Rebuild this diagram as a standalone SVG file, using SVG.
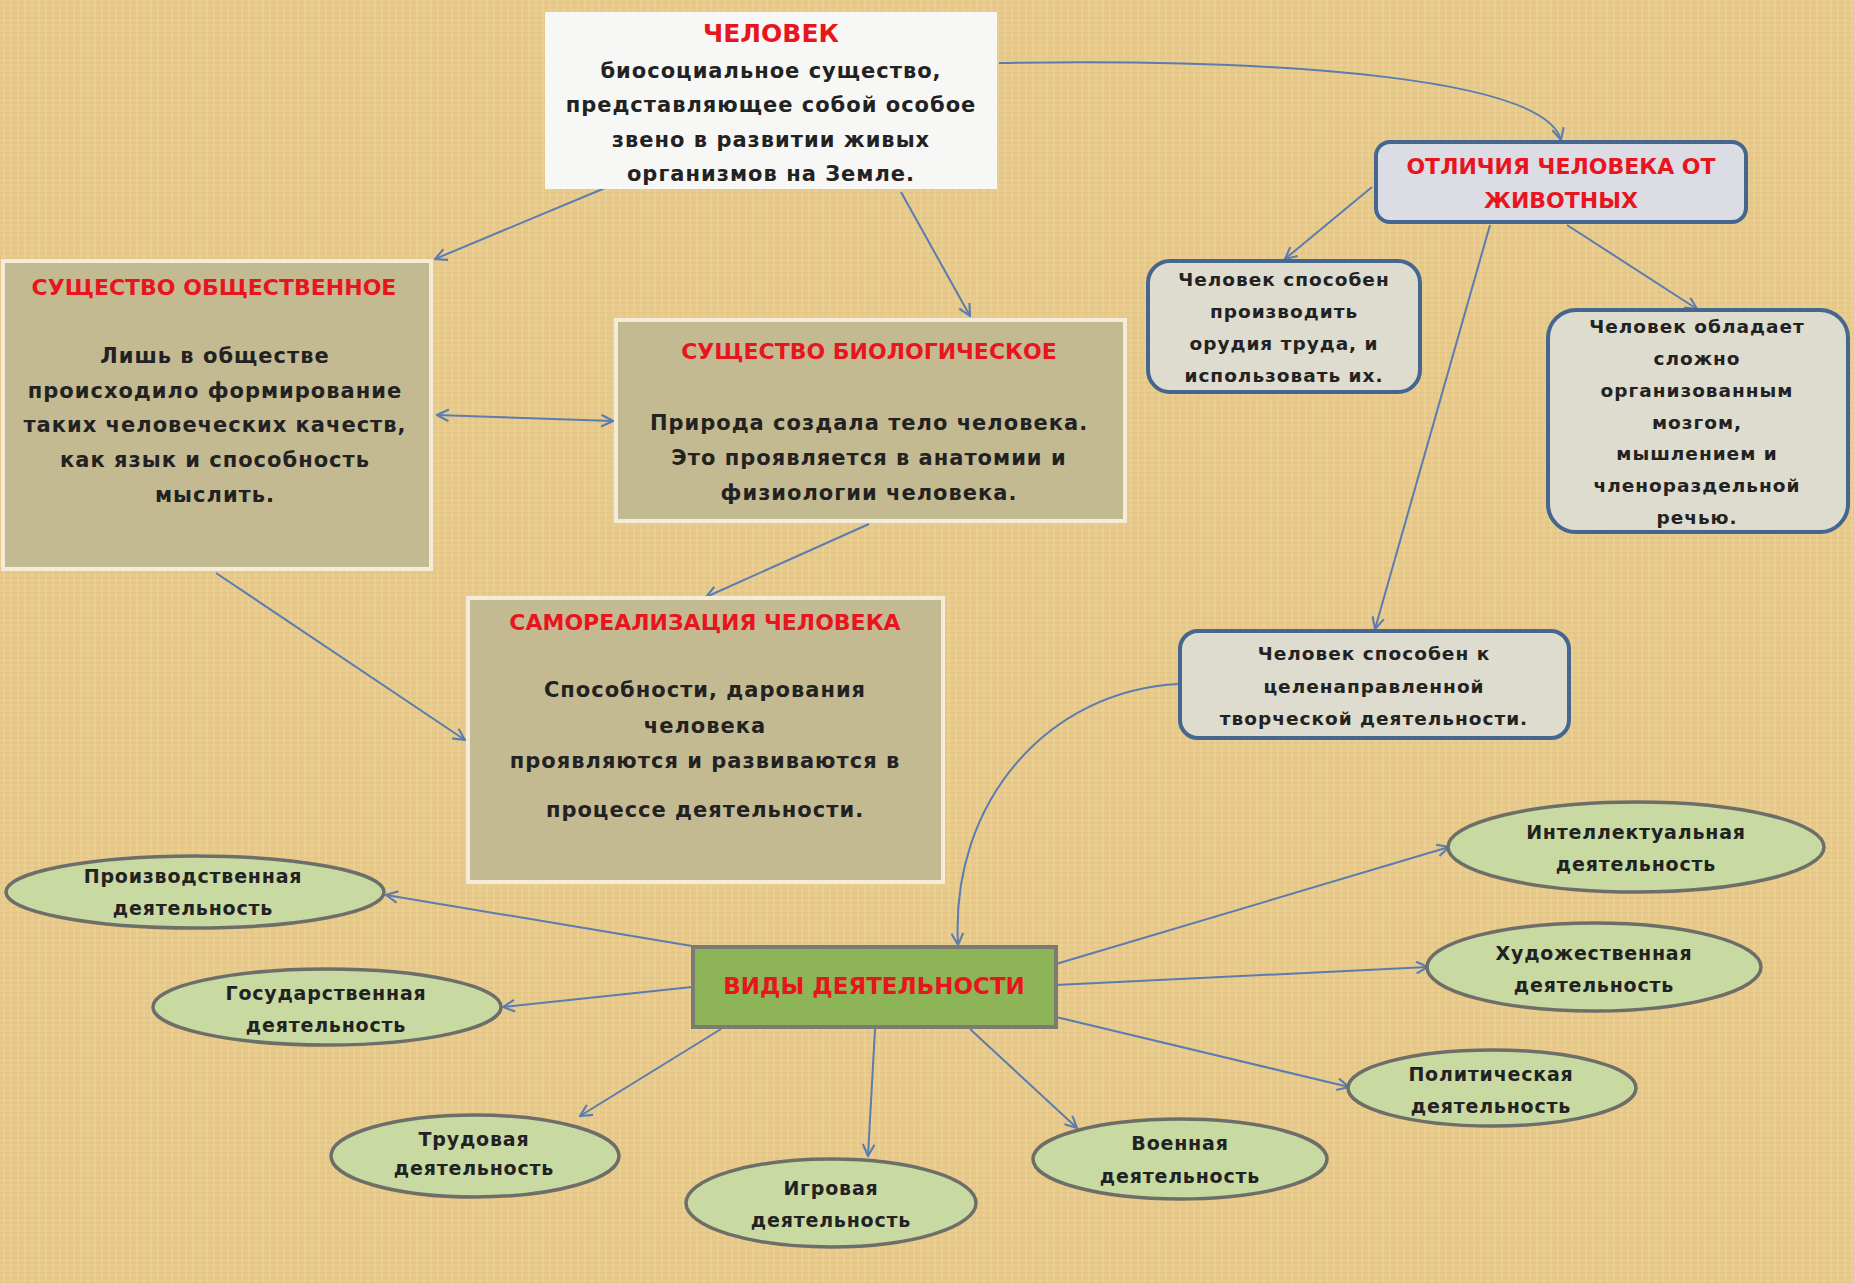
<svg xmlns="http://www.w3.org/2000/svg" width="1854" height="1283" viewBox="0 0 1854 1283">
<style>
.t{font-family:"DejaVu Sans","Liberation Sans",sans-serif;font-weight:bold;fill:#222;text-anchor:middle}
.b{font-size:21px;letter-spacing:1px}
.s{font-size:18.5px;letter-spacing:1px}
.e{font-size:19px;letter-spacing:0.8px}
.r{font-family:"DejaVu Sans","Liberation Sans",sans-serif;font-weight:bold;fill:#e8151f;text-anchor:middle;font-size:22px}
.box{fill:#c4ba92;stroke:#f2ecd8;stroke-width:4}
.rbox{fill:#dedbcf;stroke:#44668f;stroke-width:4}
.ell{fill:#c8d9a2;stroke:#6e6e68;stroke-width:3.5}
.c{fill:none;stroke:#5a7cb0;stroke-width:2}
</style>
<defs>
<pattern id="tex" width="14" height="10" patternUnits="userSpaceOnUse">
<rect width="14" height="10" fill="#e8cb8c"/>
<path d="M0,3H14M0,8H14" stroke="#d9b877" stroke-width="1" opacity="0.5"/>
<path d="M4,0V10M11,0V10" stroke="#f2dba2" stroke-width="1.2" opacity="0.5"/>
</pattern>
<marker id="a" viewBox="0 0 12 12" refX="11" refY="6" markerWidth="14" markerHeight="14" markerUnits="userSpaceOnUse" orient="auto-start-reverse">
<path d="M1,1 L11,6 L1,11" fill="none" stroke="#5a7cb0" stroke-width="1.8"/>
</marker>
</defs>
<rect width="1854" height="1283" fill="url(#tex)"/>

<g id="connectors">
<path class="c" d="M999,63 C1300,58 1545,80 1561,140" marker-end="url(#a)"/>
<path class="c" d="M617,183 L435,259" marker-end="url(#a)"/>
<path class="c" d="M901,192 L970,316" marker-end="url(#a)"/>
<path class="c" d="M437,415 L613,421" marker-start="url(#a)" marker-end="url(#a)"/>
<path class="c" d="M869,524 L706,597" marker-end="url(#a)"/>
<path class="c" d="M216,573 L465,740" marker-end="url(#a)"/>
<path class="c" d="M1372,187 L1285,259" marker-end="url(#a)"/>
<path class="c" d="M1567,225 L1697,309" marker-end="url(#a)"/>
<path class="c" d="M1490,225 L1375,629" marker-end="url(#a)"/>
<path class="c" d="M1179,684 C1050,690 950,800 958,945" marker-end="url(#a)"/>
<path class="c" d="M692,946 L386,895" marker-end="url(#a)"/>
<path class="c" d="M692,987 L503,1007" marker-end="url(#a)"/>
<path class="c" d="M721,1029 L580,1116" marker-end="url(#a)"/>
<path class="c" d="M875,1029 L868,1156" marker-end="url(#a)"/>
<path class="c" d="M970,1029 L1077,1128" marker-end="url(#a)"/>
<path class="c" d="M1056,1017 L1349,1087" marker-end="url(#a)"/>
<path class="c" d="M1056,985 L1428,967" marker-end="url(#a)"/>
<path class="c" d="M1056,964 L1449,847" marker-end="url(#a)"/>
</g>

<g id="chelovek">
<rect x="545" y="12" width="452" height="177" fill="#f7f7f6"/>
<text class="r" x="771" y="42" style="font-size:25px">ЧЕЛОВЕК</text>
<text class="t b" x="771" y="78">биосоциальное существо,</text>
<text class="t b" x="771" y="112">представляющее собой особое</text>
<text class="t b" x="771" y="147">звено в развитии живых</text>
<text class="t b" x="771" y="181">организмов на Земле.</text>
</g>

<g id="obshchestvennoe">
<rect class="box" x="3" y="261" width="428" height="308"/>
<text class="r" x="214" y="295">СУЩЕСТВО ОБЩЕСТВЕННОЕ</text>
<text class="t b" x="215" y="363">Лишь в обществе</text>
<text class="t b" x="215" y="398">происходило формирование</text>
<text class="t b" x="215" y="432">таких человеческих качеств,</text>
<text class="t b" x="215" y="467">как язык и способность</text>
<text class="t b" x="215" y="502">мыслить.</text>
</g>

<g id="biologicheskoe">
<rect class="box" x="616" y="320" width="509" height="201"/>
<text class="r" x="869" y="359">СУЩЕСТВО БИОЛОГИЧЕСКОЕ</text>
<text class="t b" x="869" y="430">Природа создала тело человека.</text>
<text class="t b" x="869" y="465">Это проявляется в анатомии и</text>
<text class="t b" x="869" y="500">физиологии человека.</text>
</g>

<g id="samorealizatsiya">
<rect class="box" x="468" y="598" width="475" height="284"/>
<text class="r" x="705" y="630">САМОРЕАЛИЗАЦИЯ ЧЕЛОВЕКА</text>
<text class="t b" x="705" y="697">Способности, дарования</text>
<text class="t b" x="705" y="733">человека</text>
<text class="t b" x="705" y="768">проявляются и развиваются в</text>
<text class="t b" x="705" y="817">процессе деятельности.</text>
</g>

<g id="otlichiya">
<rect class="rbox" x="1376" y="142" width="370" height="80" rx="14" style="fill:#dcdce4"/>
<text class="r" x="1561" y="174">ОТЛИЧИЯ ЧЕЛОВЕКА ОТ</text>
<text class="r" x="1561" y="208">ЖИВОТНЫХ</text>
</g>

<g id="orudiya">
<rect class="rbox" x="1148" y="261" width="272" height="131" rx="22"/>
<text class="t s" x="1284" y="286">Человек способен</text>
<text class="t s" x="1284" y="318">производить</text>
<text class="t s" x="1284" y="350">орудия труда, и</text>
<text class="t s" x="1284" y="382">использовать их.</text>
</g>

<g id="mozg">
<rect class="rbox" x="1548" y="310" width="300" height="222" rx="28"/>
<text class="t s" x="1697" y="333">Человек обладает</text>
<text class="t s" x="1697" y="365">сложно</text>
<text class="t s" x="1697" y="397">организованным</text>
<text class="t s" x="1697" y="429">мозгом,</text>
<text class="t s" x="1697" y="460">мышлением и</text>
<text class="t s" x="1697" y="492">членораздельной</text>
<text class="t s" x="1697" y="524">речью.</text>
</g>

<g id="tvorcheskaya">
<rect class="rbox" x="1180" y="631" width="389" height="107" rx="18"/>
<text class="t s" x="1374" y="660">Человек способен к</text>
<text class="t s" x="1374" y="693">целенаправленной</text>
<text class="t s" x="1374" y="725">творческой деятельности.</text>
</g>

<g id="vidy">
<rect x="693" y="947" width="363" height="80" fill="#8db457" stroke="#7b7b72" stroke-width="4"/>
<text class="r" x="874" y="994" style="font-size:23px">ВИДЫ ДЕЯТЕЛЬНОСТИ</text>
</g>

<g id="proizvodstvennaya">
<ellipse class="ell" cx="195" cy="892" rx="189" ry="36"/>
<text class="t e" x="193" y="883">Производственная</text>
<text class="t e" x="193" y="915">деятельность</text>
</g>
<g id="gosudarstvennaya">
<ellipse class="ell" cx="327" cy="1007" rx="174" ry="38"/>
<text class="t e" x="326" y="1000">Государственная</text>
<text class="t e" x="326" y="1032">деятельность</text>
</g>
<g id="trudovaya">
<ellipse class="ell" cx="475" cy="1156" rx="144" ry="41"/>
<text class="t e" x="474" y="1146">Трудовая</text>
<text class="t e" x="474" y="1175">деятельность</text>
</g>
<g id="igrovaya">
<ellipse class="ell" cx="831" cy="1203" rx="145" ry="44"/>
<text class="t e" x="831" y="1195">Игровая</text>
<text class="t e" x="831" y="1227">деятельность</text>
</g>
<g id="voennaya">
<ellipse class="ell" cx="1180" cy="1159" rx="147" ry="40"/>
<text class="t e" x="1180" y="1150">Военная</text>
<text class="t e" x="1180" y="1183">деятельность</text>
</g>
<g id="politicheskaya">
<ellipse class="ell" cx="1492" cy="1088" rx="144" ry="38"/>
<text class="t e" x="1491" y="1081">Политическая</text>
<text class="t e" x="1491" y="1113">деятельность</text>
</g>
<g id="khudozhestvennaya">
<ellipse class="ell" cx="1594" cy="967" rx="167" ry="44"/>
<text class="t e" x="1594" y="960">Художественная</text>
<text class="t e" x="1594" y="992">деятельность</text>
</g>
<g id="intellektualnaya">
<ellipse class="ell" cx="1636" cy="847" rx="188" ry="45"/>
<text class="t e" x="1636" y="839">Интеллектуальная</text>
<text class="t e" x="1636" y="871">деятельность</text>
</g>
</svg>
